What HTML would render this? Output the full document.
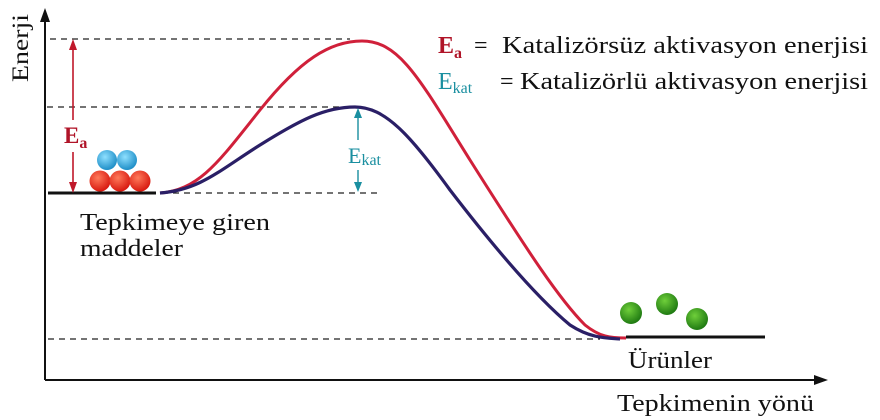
<!DOCTYPE html>
<html><head><meta charset="utf-8"><style>
html,body{margin:0;padding:0;background:#fff;}
svg{display:block}
text{font-family:"Liberation Serif",serif;}
</style></head><body>
<svg width="880" height="420" viewBox="0 0 880 420">
<defs>
<radialGradient id="rb" cx="40%" cy="35%" r="65%"><stop offset="0" stop-color="#ff7a5a"/><stop offset="1" stop-color="#d81a10"/></radialGradient>
<radialGradient id="bb" cx="40%" cy="35%" r="65%"><stop offset="0" stop-color="#8fe0ff"/><stop offset="1" stop-color="#1f8fc8"/></radialGradient>
<radialGradient id="gb" cx="40%" cy="35%" r="65%"><stop offset="0" stop-color="#6fcf3a"/><stop offset="1" stop-color="#1f7a12"/></radialGradient>
</defs>
<line x1="45" y1="380" x2="45" y2="16" stroke="#111" stroke-width="2"/>
<polygon points="45,8 40,22 50,22" fill="#111"/>
<line x1="45" y1="380" x2="818" y2="380" stroke="#111" stroke-width="2"/>
<polygon points="828,380 814,375 814,385" fill="#111"/>
<text transform="translate(28,82) rotate(-90)" font-size="23" fill="#111" textLength="68" lengthAdjust="spacingAndGlyphs">Enerji</text>
<g stroke="#222" stroke-width="1.2" stroke-dasharray="6,5">
<line x1="50" y1="39" x2="350" y2="39"/>
<line x1="47" y1="107" x2="356" y2="107"/>
<line x1="162" y1="193" x2="380" y2="193"/>
<line x1="48" y1="339" x2="600" y2="339"/>
</g>
<line x1="48" y1="193" x2="156" y2="193" stroke="#111" stroke-width="3"/>
<line x1="626" y1="337" x2="765" y2="337" stroke="#111" stroke-width="3"/>
<path d="M160,193 C200,190 220,160 260,110 C300,60 330,41 362,41 C400,41 420,80 470,160 C530,255 560,300 585,325 C600,337 610,338 626,338" fill="none" stroke="#d0203a" stroke-width="3"/>
<path d="M160,193 C200,190 220,170 260,145 C300,120 325,107 355,107 C385,107 410,135 450,190 C500,255 540,300 570,325 C590,338 605,338 620,339" fill="none" stroke="#2a1f66" stroke-width="3.2"/>
<line x1="73" y1="48" x2="73" y2="184" stroke="#c0182a" stroke-width="1.6"/>
<polygon points="73,39 69,50 77,50" fill="#c0182a"/>
<polygon points="73,193 69,182 77,182" fill="#c0182a"/>
<rect x="62" y="120" width="26" height="32" fill="#fff"/>
<text x="64" y="143" font-size="23" font-weight="bold" fill="#b01428">E<tspan font-size="16" dy="5">a</tspan></text>
<line x1="358" y1="116" x2="358" y2="185" stroke="#1a8fa0" stroke-width="1.4"/>
<polygon points="358,108 354,118 362,118" fill="#1a8fa0"/>
<polygon points="358,192 354,182 362,182" fill="#1a8fa0"/>
<rect x="346" y="140" width="52" height="30" fill="#fff"/>
<text x="348" y="163" font-size="22" fill="#1a8fa0">E<tspan font-size="16" dy="2">kat</tspan></text>
<circle cx="107" cy="160" r="10" fill="url(#bb)"/>
<circle cx="127" cy="160" r="10" fill="url(#bb)"/>
<circle cx="100" cy="181" r="10.5" fill="url(#rb)"/>
<circle cx="120" cy="181" r="10.5" fill="url(#rb)"/>
<circle cx="140" cy="181" r="10.5" fill="url(#rb)"/>
<circle cx="631" cy="313" r="11" fill="url(#gb)"/>
<circle cx="667" cy="304" r="11" fill="url(#gb)"/>
<circle cx="697" cy="319" r="11" fill="url(#gb)"/>
<text x="80" y="230" font-size="24" fill="#111" textLength="190" lengthAdjust="spacingAndGlyphs">Tepkimeye giren</text>
<text x="80" y="256" font-size="24" fill="#111" textLength="103" lengthAdjust="spacingAndGlyphs">maddeler</text>
<text x="628" y="368" font-size="24" fill="#111" textLength="84" lengthAdjust="spacingAndGlyphs">Ürünler</text>
<text x="617" y="411" font-size="24" fill="#111" textLength="197" lengthAdjust="spacingAndGlyphs">Tepkimenin yönü</text>
<text x="438" y="53" font-size="24" fill="#b01428" font-weight="bold">E<tspan font-size="16" dy="5">a</tspan></text>
<text x="474" y="53" font-size="24" fill="#111">=</text>
<text x="502" y="53" font-size="24" fill="#111" textLength="366" lengthAdjust="spacingAndGlyphs">Katalizörsüz aktivasyon enerjisi</text>
<text x="438" y="89" font-size="24" fill="#1a8fa0">E<tspan font-size="16" dy="4">kat</tspan></text>
<text x="500" y="89" font-size="24" fill="#111">=</text>
<text x="520" y="89" font-size="24" fill="#111" textLength="348" lengthAdjust="spacingAndGlyphs">Katalizörlü aktivasyon enerjisi</text>
</svg>
</body></html>
